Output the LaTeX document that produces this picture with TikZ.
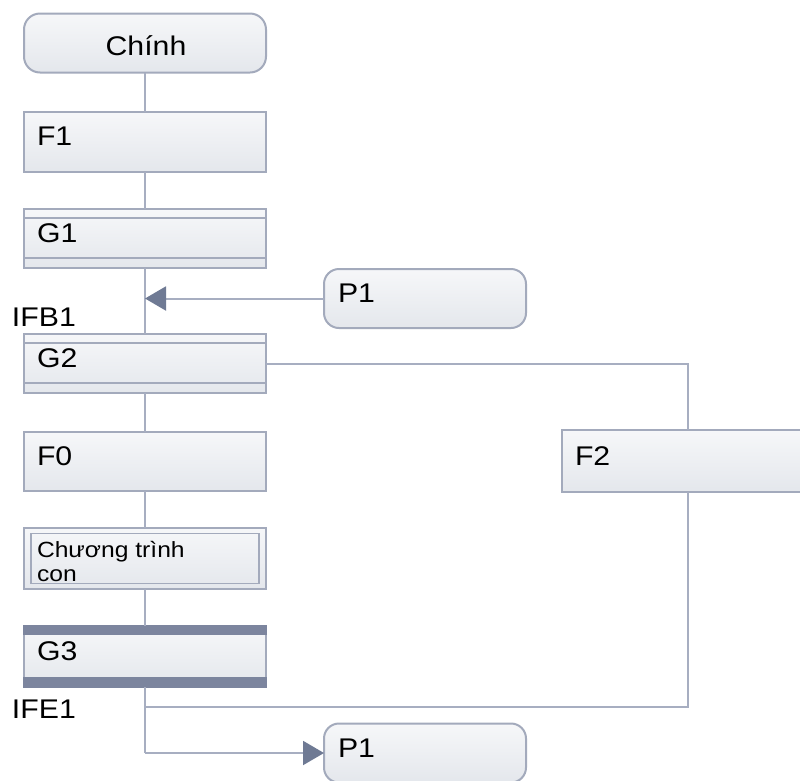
\documentclass[tikz,border=0pt]{standalone}
\usepackage{fontspec}
\setmainfont{Liberation Sans}[FakeStretch=1.12]
\usetikzlibrary{arrows.meta,calc}
\definecolor{edgec}{HTML}{A3AABC}
\definecolor{linkc}{HTML}{A7AEC1}
\definecolor{darkc}{HTML}{7C859E}
\definecolor{arrowc}{HTML}{6F7A94}
\definecolor{ftop}{HTML}{F6F7F9}
\definecolor{fbot}{HTML}{E4E7EC}
\tikzset{
  boxbase/.style={draw=edgec, line width=2pt, top color=ftop, bottom color=fbot,
    inner sep=0pt, outer sep=0pt, minimum width=242pt, minimum height=59pt},
  procbox/.style={boxbase},
  termbox/.style={boxbase, rounded corners=16pt},
  subbox/.style={boxbase, minimum height=61pt},
  lbl/.style={inner sep=0pt, outer sep=0pt, anchor=base west, text=black,
    font=\fontsize{27}{30}\selectfont},
  smalllbl/.style={lbl, font=\fontsize{22}{24}\selectfont},
  conn/.style={draw=linkc, line width=2pt},
  tip/.style={-{Triangle[length=21pt,width=24pt,fill=arrowc,color=arrowc]}},
  band/.style={draw=edgec, line width=1.6pt},
}
\begin{document}
\begin{tikzpicture}[x=1pt,y=-1pt]
\clip (0,0) rectangle (800,780);
\fill[white] (0,0) rectangle (800,780);

% boxes
\node[termbox] (chinh) at (145,43) {};
\node[procbox, minimum height=60pt] (f1) at (145,142) {};
\node[procbox] (g1) at (145,238.5) {};
\node[procbox] (g2) at (145,363.5) {};
\node[procbox] (f0) at (145,461.5) {};
\node[subbox] (sub) at (145,558) {};
\node[procbox, minimum height=61pt] (g3) at (145,656.5) {};
\node[procbox, minimum width=252pt, minimum height=62pt] (f2) at (688,461) {};
\node[termbox, minimum width=202pt, rounded corners=15pt] (p1a) at (425,298.5) {};
\node[termbox, minimum width=202pt, rounded corners=15pt] (p1b) at (425,753) {};

% bands of G1, G2
\foreach \n in {g1,g2}{
  \draw[band] ([yshift=-9pt]\n.north west) -- ([yshift=-9pt]\n.north east);
  \draw[band] ([yshift=10pt]\n.south west) -- ([yshift=10pt]\n.south east);
}
% dark bands of G3
\fill[darkc] ([xshift=-1pt,yshift=1pt]g3.north west) rectangle ([xshift=1pt,yshift=-9pt]g3.north east);
\fill[darkc] ([xshift=-1pt,yshift=10pt]g3.south west) rectangle ([xshift=1pt,yshift=-1pt]g3.south east);
% inner frame of sub-program box
\draw[draw=edgec, line width=1.6pt] ([shift={(7pt,-6pt)}]sub.north west) rectangle ([shift={(-7pt,5pt)}]sub.south east);

% texts
\node[lbl, anchor=base] (tchinh) at (146,55) {Chính};
\node[lbl] (tf1) at (37,145) {F1};
\node[lbl] (tg1) at (37,242) {G1};
\node[lbl] (tg2) at (37,367) {G2};
\node[lbl] (tf0) at (37,465) {F0};
\node[smalllbl] (tsub1) at (37,557) {Chương trình};
\node[smalllbl] (tsub2) at (37,581) {con};
\node[lbl] (tg3) at (37,660) {G3};
\node[lbl] (tf2) at (575,465) {F2};
\node[lbl] (tp1a) at (338,302) {P1};
\node[lbl] (tp1b) at (338,757) {P1};
\node[lbl] (tifb) at (12,326) {IFB1};
\node[lbl] (tife) at (12,718) {IFE1};

% connectors
\draw[conn] (chinh) -- (f1);
\draw[conn] (f1) -- (g1);
\draw[conn] (g1) -- (g2);
\draw[conn] (g2) -- (f0);
\draw[conn] (f0) -- (sub);
\draw[conn] (sub) -- (g3);
\coordinate (jin) at (145,298.5);
\draw[conn, tip] (p1a.west) -- (jin);
\draw[conn] ([yshift=-0.5pt]g2.east) -| (f2.north);
\coordinate (jout) at (145,707);
\draw[conn] (f2.south) |- (jout);
\coordinate (jbot) at (145,753);
\draw[conn] (g3.south) -- (jbot);
\draw[conn, tip] (jbot) -- (p1b.west);
\end{tikzpicture}
\end{document}
